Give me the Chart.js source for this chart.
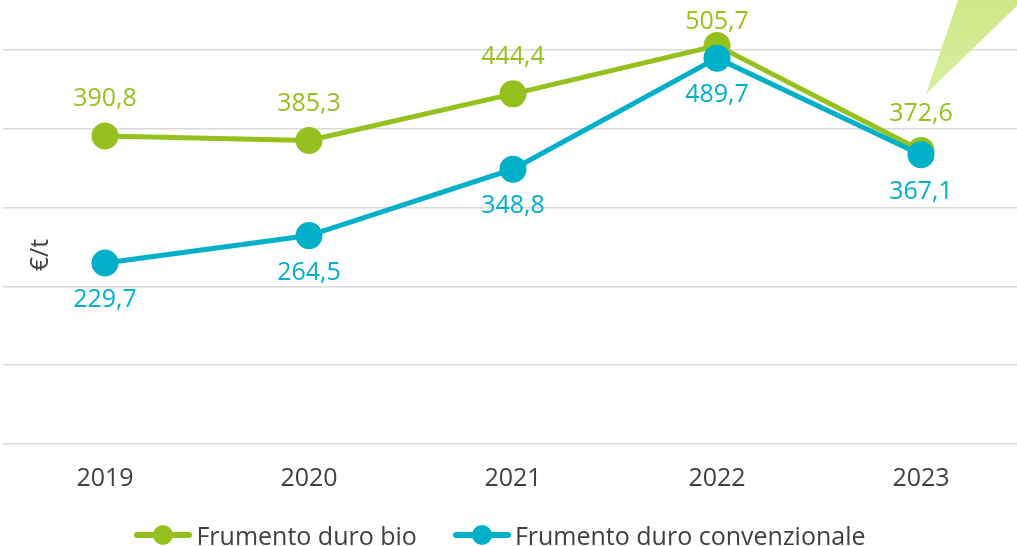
<!DOCTYPE html>
<html>
<head>
<meta charset="utf-8">
<script src="https://cdn.jsdelivr.net/npm/chart.js@4.4.0/dist/chart.umd.min.js"></script>
<style>
  html, body { margin: 0; padding: 0; background: #fff; overflow: hidden; }
  body { width: 1017px; height: 546px; position: relative; font-family: "Open Sans", sans-serif; }
  #wrap { position: absolute; left: 0; top: 0; width: 1023px; height: 546px; }
  #legend { position: absolute; left: 0; width: 1000px; top: 519px; display: flex; justify-content: center;
            font-size: 25px; color: #404040; line-height: 32px; }
  .item { display: flex; align-items: center; margin: 0 18px; }
  .item svg { margin-right: 4px; }
</style>
</head>
<body>
<div id="wrap"><canvas id="chart"></canvas></div>
<div id="legend"></div>
<script>
const years = ["2019", "2020", "2021", "2022", "2023"];
const bio = [390.8, 385.3, 444.4, 505.7, 372.6];
const conv = [229.7, 264.5, 348.8, 489.7, 367.1];
const seriesNames = ["Frumento duro bio", "Frumento duro convenzionale"];
const yTitle = "€/t";

const green = "#95c11f";
const blue = "#00b0c8";
const textCol = "#404040";
const fontFam = "'Open Sans', sans-serif";

const fmt = v => v.toFixed(1).replace(".", ",");

// value labels: green above, blue below (kept inside the canvas)
const valueLabels = {
  id: "valueLabels",
  afterDatasetsDraw(chart) {
    const ctx = chart.ctx;
    ctx.save();
    ctx.font = "25px " + fontFam;
    ctx.textAlign = "center";
    ctx.textBaseline = "middle";
    chart.data.datasets.forEach((ds, i) => {
      const meta = chart.getDatasetMeta(i);
      const dir = ds.labelPos === "above" ? -1 : 1;
      meta.data.forEach((pt, j) => {
        ctx.fillStyle = ds.borderColor;
        const y = Math.max(pt.y + dir * 37, 22);
        ctx.fillText(fmt(ds.data[j]), pt.x, y);
      });
    });
    ctx.restore();
  }
};

// y title inside plot + decorative callout triangle
const extras = {
  id: "extras",
  afterDraw(chart) {
    const ctx = chart.ctx;
    ctx.save();
    ctx.translate(41, 255);
    ctx.rotate(-Math.PI / 2);
    ctx.font = "25px " + fontFam;
    ctx.fillStyle = textCol;
    ctx.textAlign = "center";
    ctx.textBaseline = "middle";
    ctx.fillText(yTitle, 0, 0);
    ctx.restore();

    ctx.save();
    const g = ctx.createLinearGradient(0, 0, 0, 94);
    g.addColorStop(0, "#cde888");
    g.addColorStop(1, "#d9ef9f");
    ctx.fillStyle = g;
    ctx.beginPath();
    ctx.moveTo(958, 0);
    ctx.lineTo(1023, 0);
    ctx.lineTo(926, 94);
    ctx.closePath();
    ctx.fill();
    ctx.restore();
  }
};

const chart = new Chart(document.getElementById("chart"), {
  type: "line",
  data: {
    labels: years,
    datasets: [
      {
        label: seriesNames[0],
        data: bio,
        borderColor: green,
        backgroundColor: green,
        borderWidth: 5,
        pointRadius: 11,
        pointHoverRadius: 11,
        labelPos: "above",
        order: 1
      },
      {
        label: seriesNames[1],
        data: conv,
        borderColor: blue,
        backgroundColor: blue,
        borderWidth: 5,
        pointRadius: 11,
        pointHoverRadius: 11,
        labelPos: "below",
        order: 0
      }
    ]
  },
  options: {
    responsive: true,
    maintainAspectRatio: false,
    animation: false,
    layout: { autoPadding: false, padding: { left: 3, right: 0, top: 0, bottom: 0 } },
    plugins: { legend: { display: false }, tooltip: { enabled: false } },
    scales: {
      x: {
        offset: true,
        grid: { display: false },
        border: { display: false },
        ticks: { color: textCol, font: { family: fontFam, size: 25 }, padding: 12 },
        afterFit(scale) {
          scale.height = 102;
          scale.paddingLeft = 0;
          scale.paddingRight = 0;
        }
      },
      y: {
        min: 0,
        max: 563.5,
        ticks: { display: false, stepSize: 100 },
        border: { display: false },
        grid: { color: "#d9d9d9", lineWidth: 1.5, drawTicks: false },
        afterBuildTicks(scale) {
          scale.ticks = scale.ticks.filter(t => t.value % 100 === 0);
        },
        afterFit(scale) {
          scale.width = 0;
          scale.paddingTop = 0;
          scale.paddingBottom = 0;
        }
      }
    }
  },
  plugins: [valueLabels, extras]
});

// legend built from the series
const legendEl = document.getElementById("legend");
chart.data.datasets.forEach(ds => {
  const item = document.createElement("div");
  item.className = "item";
  item.innerHTML =
    '<svg width="58" height="24"><line x1="3" y1="12" x2="55" y2="12" stroke="' + ds.borderColor +
    '" stroke-width="6" stroke-linecap="round"/><circle cx="29" cy="12" r="10" fill="' + ds.borderColor + '"/></svg>' +
    "<span>" + ds.label + "</span>";
  legendEl.appendChild(item);
});
</script>
</body>
</html>
